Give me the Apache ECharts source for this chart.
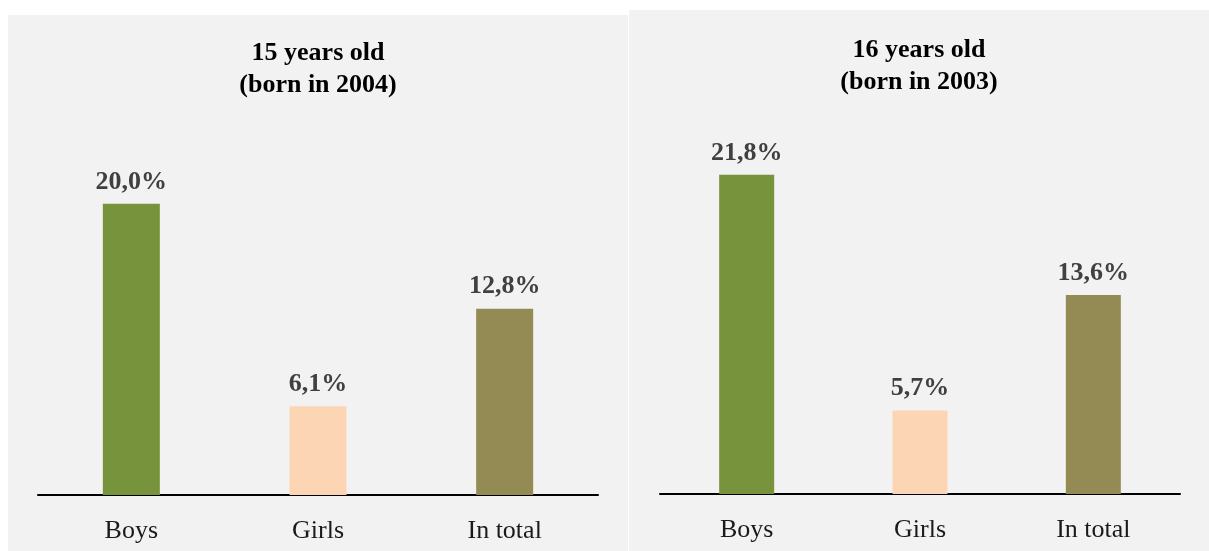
<!DOCTYPE html>
<html>
<head>
<meta charset="utf-8">
<script src="https://cdn.jsdelivr.net/npm/echarts@6/dist/echarts.min.js"></script>
<style>
    html, body { margin: 0; padding: 0; background: #fff; width: 1209px; height: 551px; overflow: hidden; }
    .panel { position: absolute; background: #f2f2f2; }
    #age15 { left: 8px; top: 15px; width: 620px; height: 536px; }
    #age16 { left: 629px; top: 10px; width: 580px; height: 541px; }
</style>
</head>
<body>
<div class="panel" id="age15"></div>
<div class="panel" id="age16"></div>
<script>
var categories = ['Boys', 'Girls', 'In total']
var barColors = ['#77933c', '#fcd5b5', '#948a54']
var values15 = [20.0, 6.1, 12.8]
var values16 = [21.8, 5.7, 13.6]
var titles15 = ['15 years old', '(born in 2004)']
var titles16 = ['16 years old', '(born in 2003)']

var serif = '"Liberation Serif", "Times New Roman", serif'

function makeOption(titleLines, values, grid, titleTop, barWidth) {
    return {
        backgroundColor: 'transparent',
        animation: false,
        title: {
            text: titleLines.join('\n'),
            left: 'center',
            top: titleTop,
            textStyle: {
                fontFamily: serif,
                fontWeight: 'bold',
                fontSize: 26,
                lineHeight: 32,
                color: '#000'
            }
        },
        grid: grid,
        xAxis: {
            type: 'category',
            data: categories,
            axisLine: { lineStyle: { color: '#000', width: 2 } },
            axisTick: { show: false },
            axisLabel: {
                margin: 23,
                fontFamily: serif,
                fontSize: 26,
                color: '#1a1a1a'
            }
        },
        yAxis: {
            type: 'value',
            min: 0,
            max: 25,
            show: false,
            splitLine: { show: false }
        },
        series: [{
            type: 'bar',
            barWidth: barWidth,
            data: values.map(function(v, i) {
                return { value: v, itemStyle: { color: barColors[i] } }
            }),
            label: {
                show: true,
                position: 'top',
                distance: 9,
                fontFamily: serif,
                fontWeight: 'bold',
                fontSize: 26,
                color: '#404040',
                formatter: function(p) {
                    return p.value.toFixed(1).replace('.', ',') + '%'
                }
            }
        }]
    }
}

var chart15 = echarts.init(document.getElementById('age15'))
chart15.setOption(makeOption(titles15, values15,
    { left: 30, width: 560, top: 116, bottom: 56 }, 17, 57))

var chart16 = echarts.init(document.getElementById('age16'))
chart16.setOption(makeOption(titles16, values16,
    { left: 31, width: 520, top: 118, bottom: 57 }, 19, 55))
</script>
</body>
</html>
